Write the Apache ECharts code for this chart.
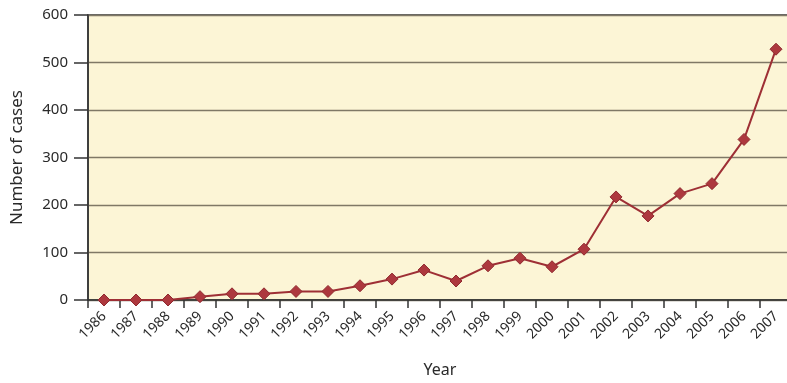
<!DOCTYPE html>
<html><head><meta charset="utf-8">
<script src="https://cdn.jsdelivr.net/npm/echarts@6/dist/echarts.min.js"></script>
<style>html,body{margin:0;padding:0;background:#fff;overflow:hidden}#c{width:792px;height:383px}</style>
</head><body><div id="c"></div>
<script>
const years = ['1986','1987','1988','1989','1990','1991','1992','1993','1994','1995','1996','1997','1998','1999','2000','2001','2002','2003','2004','2005','2006','2007'];
const cases = [0,0,0,7,13,13,18,18,30,44,63,40,72,88,70,107,217,177,224,245,338,528];
const yTicks = [0,100,200,300,400,500,600];

const chart = echarts.init(document.getElementById('c'), null, {renderer:'canvas'});
const font = '"Noto Sans", "Open Sans", sans-serif';
chart.setOption({
  animation:false,
  backgroundColor:'#ffffff',
  grid:{left:88, right:0, top:15, bottom:76, show:true, backgroundColor:'#fcf5d6', borderColor:'#333333', borderWidth:1.5},
  xAxis:{
    type:'category', data:years, boundaryGap:true,
    name:'Year', nameLocation:'middle', nameGap:62,
    nameTextStyle:{fontFamily:font, fontSize:16, color:'#2a2a2a'},
    axisLine:{lineStyle:{color:'#333333', width:1.5}},
    axisTick:{show:true, length:8, lineStyle:{color:'#333333', width:1.5}},
    axisLabel:{rotate:45, fontFamily:font, fontSize:14, color:'#2a2a2a', margin:14, interval:0},
    splitLine:{show:false}
  },
  yAxis:{
    type:'value', min:yTicks[0], max:yTicks[yTicks.length-1], interval:100,
    name:'Number of cases', nameLocation:'middle', nameGap:62, nameRotate:90,
    nameTextStyle:{fontFamily:font, fontSize:17, color:'#2a2a2a'},
    axisLine:{show:true, lineStyle:{color:'#333333', width:1.5}},
    axisTick:{show:true, length:14, lineStyle:{color:'#333333', width:1.5}},
    axisLabel:{fontFamily:font, fontSize:15, color:'#2a2a2a', margin:20},
    splitLine:{show:true, lineStyle:{color:'#7f7866', width:1.4}}
  },
  series:[{
    type:'line', data:cases,
    symbol:'diamond', symbolSize:12,
    lineStyle:{color:'#9e2f35', width:2},
    itemStyle:{color:'#ad383e', borderColor:'#902a30', borderWidth:1},
    z:5
  }]
});
</script></body></html>
